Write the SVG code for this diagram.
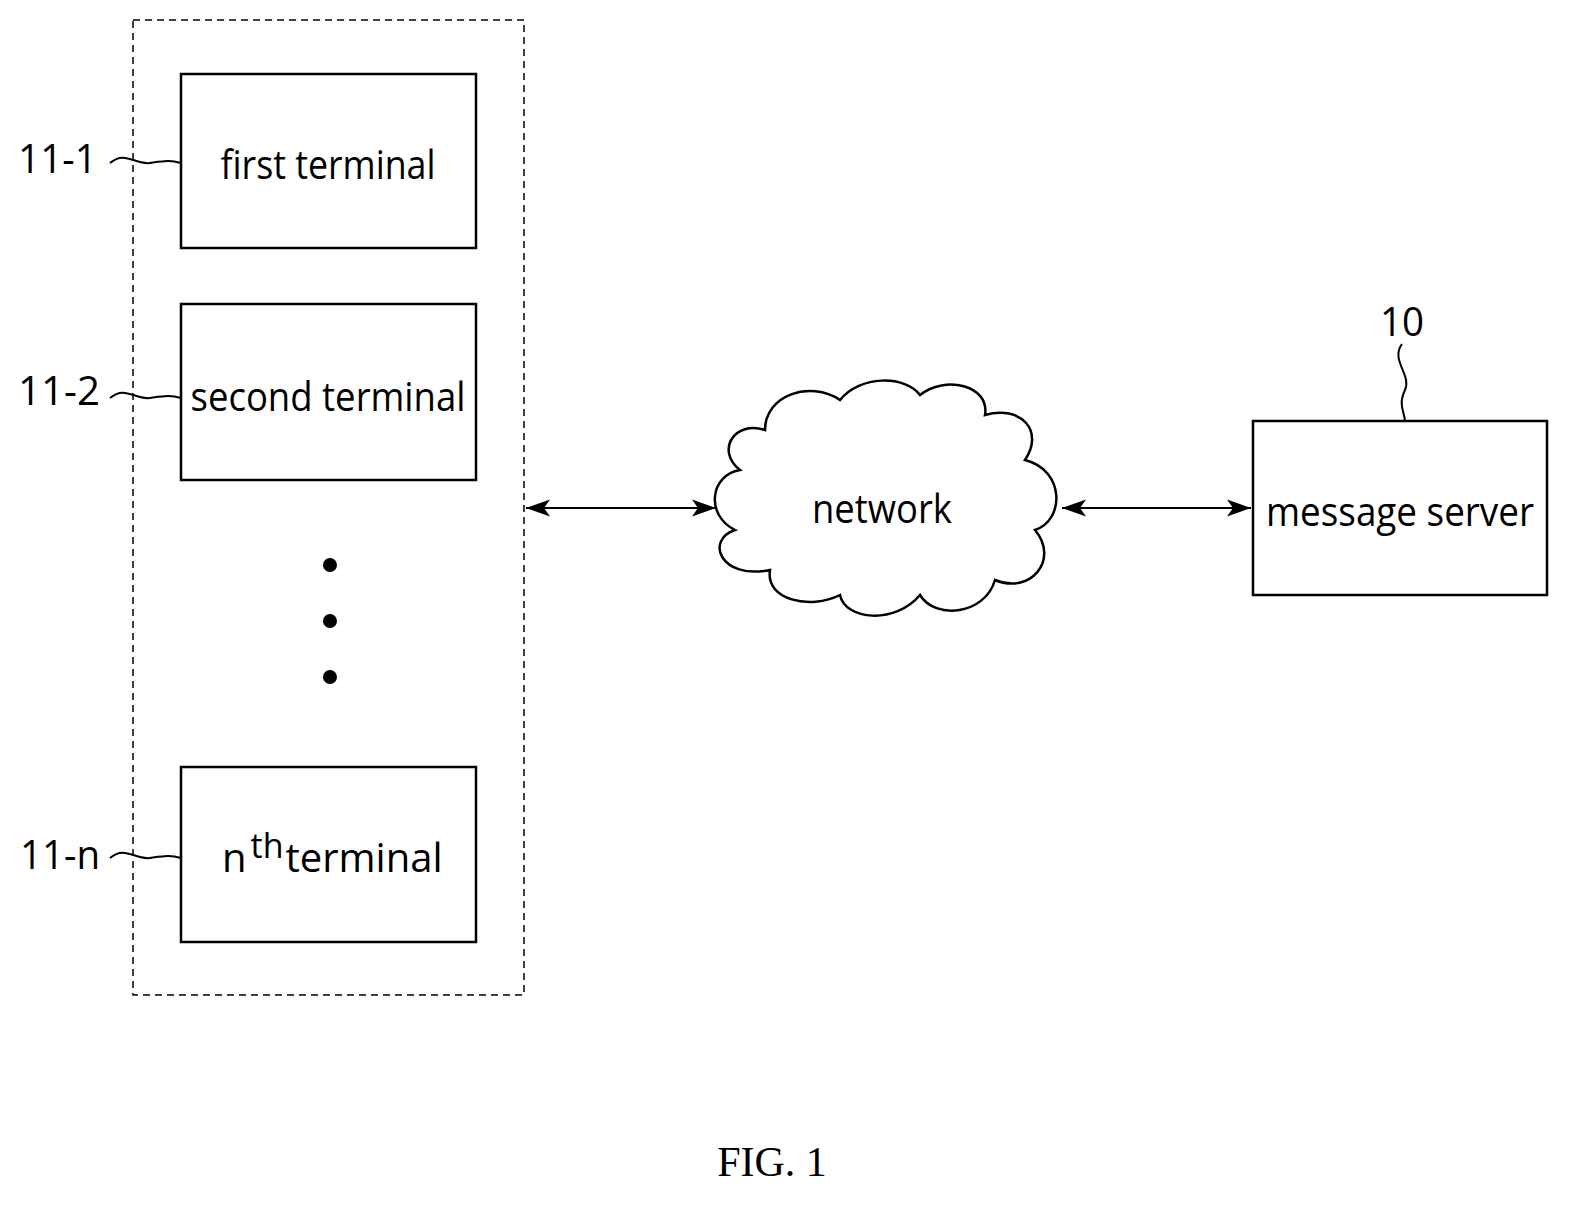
<svg xmlns="http://www.w3.org/2000/svg" width="1579" height="1206" viewBox="0 0 1579 1206">
<style>
.box{fill:#fff;stroke:#000;stroke-width:2.5}
.t{font-family:"Open Sans","Liberation Sans",sans-serif;font-size:40px;text-anchor:middle}
.lbl{font-family:"Open Sans","Liberation Sans",sans-serif;font-size:40px}
.ln{fill:none;stroke:#000;stroke-width:2}
</style>
<defs>
<marker id="b" viewBox="0 0 20 14" refX="20" refY="7" markerWidth="24" markerHeight="18" markerUnits="userSpaceOnUse" orient="auto-start-reverse"><path d="M0,0 L20,7 L0,14 L5,7 Z"/></marker>
</defs>
<rect width="1579" height="1206" fill="#fff"/>
<rect x="133" y="20" width="391" height="975" fill="none" stroke="#000" stroke-width="1.5" stroke-dasharray="7,5"/>
<g id="t1"><rect class="box" x="181" y="74" width="295" height="174"/><text class="t" x="328" y="179" textLength="215" lengthAdjust="spacingAndGlyphs">first terminal</text></g>
<g id="t2"><rect class="box" x="181" y="304" width="295" height="176"/><text class="t" x="328" y="411" textLength="275" lengthAdjust="spacingAndGlyphs">second terminal</text></g>
<g id="dots"><circle cx="330" cy="565" r="7"/><circle cx="330" cy="621" r="7"/><circle cx="330" cy="677" r="7"/></g>
<g id="tn"><rect class="box" x="181" y="767" width="295" height="175"/><text class="lbl" x="222" y="872" font-size="38">n<tspan dx="4" dy="-14" font-size="34">th</tspan><tspan dx="2" dy="14">terminal</tspan></text></g>
<g id="labels">
<text class="lbl" x="18" y="173" textLength="79" lengthAdjust="spacingAndGlyphs">11-1</text>
<text class="lbl" x="18" y="405" textLength="82" lengthAdjust="spacingAndGlyphs">11-2</text>
<text class="lbl" x="20" y="869" textLength="80" lengthAdjust="spacingAndGlyphs">11-n</text>
<text class="lbl" x="1380" y="336" textLength="44" lengthAdjust="spacingAndGlyphs">10</text>
<path class="ln" d="M110,163 C125,150 135,165 150,163 S170,160 181,163"/>
<path class="ln" d="M110,398 C125,385 135,400 150,398 S170,395 181,398"/>
<path class="ln" d="M110,858 C125,845 135,860 150,858 S170,855 181,858"/>
<path class="ln" d="M1402,344 C1390,360 1412,375 1405,390 S1404,410 1405,421"/>
</g>
<g id="network">
<path fill="#fff" stroke="#000" stroke-width="2.5" d="M740,470 C715,450 735,420 765,430 C765,395 810,380 840,400 C860,375 905,375 920,395 C945,375 990,385 985,415 C1020,405 1045,430 1025,460 C1065,470 1065,520 1035,530 C1060,560 1030,595 995,580 C985,615 935,620 920,595 C895,625 845,620 840,595 C810,610 765,600 770,570 C720,580 705,540 735,530 C705,515 710,475 740,470 Z"/>
<text class="t" x="882" y="523" textLength="140" lengthAdjust="spacingAndGlyphs">network</text>
</g>
<g id="server"><rect class="box" x="1253" y="421" width="294" height="174"/><text class="t" x="1400" y="526" textLength="268" lengthAdjust="spacingAndGlyphs">message server</text></g>
<g id="connectors">
<line class="ln" x1="526" y1="508" x2="716" y2="508" marker-start="url(#b)" marker-end="url(#b)"/>
<line class="ln" x1="1062" y1="508" x2="1251" y2="508" marker-start="url(#b)" marker-end="url(#b)"/>
</g>
<text x="772" y="1176" font-family="Liberation Serif,serif" font-size="42" text-anchor="middle">FIG. 1</text>
</svg>
